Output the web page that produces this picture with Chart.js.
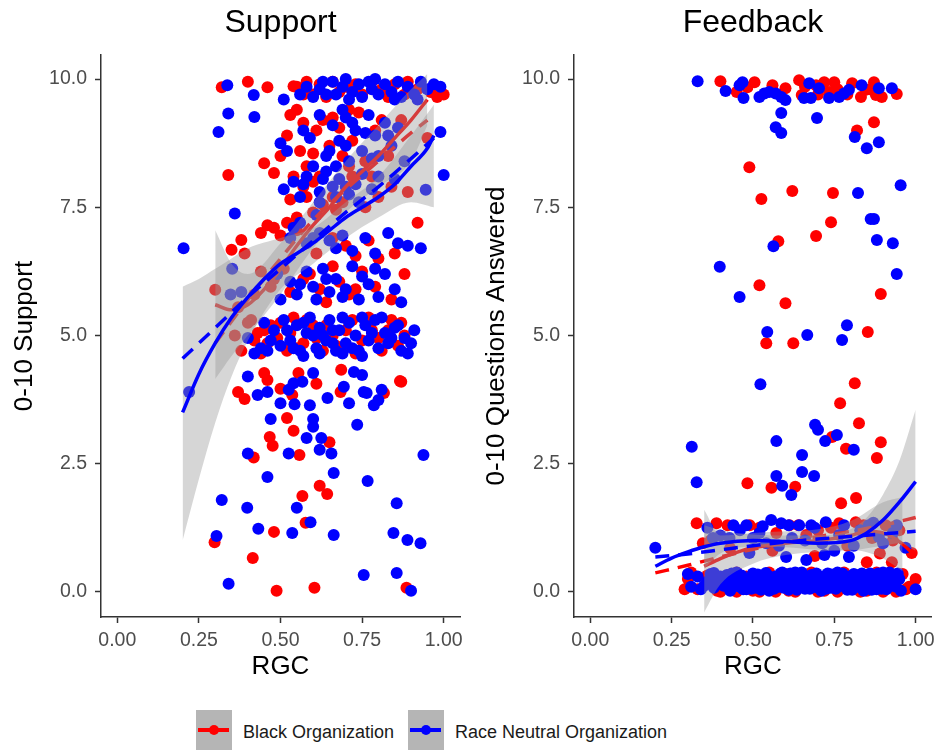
<!DOCTYPE html>
<html>
<head>
<meta charset="utf-8">
<script src="https://cdn.jsdelivr.net/npm/chart.js@4.4.1/dist/chart.umd.min.js"></script>
<style>
  body { margin: 0; background: #fff; font-family: "Liberation Sans", Arial, sans-serif; }
  #wrap { position: relative; width: 941px; height: 750px; overflow: hidden; }
  #supportCanvas { position: absolute; left: 0; top: 0; }
  #feedbackCanvas { position: absolute; left: 470px; top: 0; }
  .key { position: absolute; top: 710px; width: 36px; height: 40px; background: #b5b5b5; }
  .key .ln { position: absolute; left: 2px; right: 3px; top: 18px; height: 4px; }
  .key .dot { position: absolute; left: 13px; top: 15px; width: 10px; height: 10px; border-radius: 50%; }
  .lbl { position: absolute; top: 721px; font-size: 18px; color: #1a1a1a; line-height: 22px; white-space: nowrap; }
</style>
</head>
<body>
<div id="wrap">
  <canvas id="supportCanvas" width="470" height="690"></canvas>
  <canvas id="feedbackCanvas" width="471" height="690"></canvas>

  <div class="key" style="left:196px"><div class="ln" style="background:#ff0000"></div><div class="dot" style="background:#ff0000"></div></div>
  <div class="lbl" style="left:243px">Black Organization</div>
  <div class="key" style="left:408px"><div class="ln" style="background:#0000ff"></div><div class="dot" style="background:#0000ff"></div></div>
  <div class="lbl" style="left:455px">Race Neutral Organization</div>
</div>

<script>
const rgcTicks = [0, 0.25, 0.5, 0.75, 1];
const scoreTicks = [0, 2.5, 5, 7.5, 10];

// Support panel: [RGC, 0-10 support]
const supportBlack = [
  [0.32,9.84],[0.40,9.95],[0.46,9.84],[0.54,9.86],[0.55,9.85],[0.57,9.7],[0.58,9.95],[0.60,9.7],[0.62,9.9],[0.64,9.65],
  [0.66,9.95],[0.68,9.75],[0.70,9.85],[0.73,9.9],[0.75,9.7],[0.78,9.95],[0.81,9.8],[0.83,9.65],[0.85,9.9],[0.88,9.7],
  [0.89,9.95],[0.92,9.8],[0.96,9.75],[0.98,9.65],[1.0,9.7],
  [0.34,8.13],[0.45,8.36],[0.48,8.17],[0.52,8.9],[0.55,9.4],[0.56,8.6],[0.57,9.15],[0.58,8.3],[0.61,9.0],[0.65,8.7],
  [0.66,9.25],[0.69,8.5],[0.72,8.8],[0.74,9.35],[0.76,8.4],[0.79,9.0],[0.83,8.5],[0.87,9.2],[0.95,8.85],[0.53,9.3],[0.60,8.55],
  [0.63,9.2],[0.68,9.05],[0.71,9.4],[0.81,9.2],[0.50,8.5],[0.54,8.1],
  [0.53,7.65],[0.57,7.9],[0.60,8.0],[0.63,7.55],[0.66,7.7],[0.69,7.6],[0.72,8.1],[0.76,7.5],[0.80,7.7],[0.84,7.9],
  [0.89,7.8],[0.55,7.3],[0.60,7.4],[0.58,7.7],[0.62,8.1],[0.67,7.45],[0.71,8.3],[0.78,8.1],
  [0.35,6.67],[0.38,6.86],[0.39,6.6],[0.44,7.0],[0.46,7.15],[0.48,7.1],[0.50,6.95],[0.52,7.2],[0.55,7.05],[0.61,6.6],
  [0.66,6.9],[0.70,6.75],[0.73,6.55],[0.77,6.85],[0.80,6.5],[0.85,6.6],[0.92,7.2],
  [0.30,5.89],[0.37,5.55],[0.42,5.8],[0.44,6.25],[0.47,5.95],[0.51,6.3],[0.57,6.1],[0.62,5.9],[0.64,5.65],[0.66,6.35],
  [0.71,5.8],[0.75,6.25],[0.79,5.95],[0.84,5.7],[0.88,6.2],[0.48,6.1],[0.53,5.85],[0.59,6.2],[0.68,6.05],[0.73,5.9],
  [0.36,5.0],[0.38,4.7],[0.40,5.25],[0.42,4.9],[0.44,4.65],[0.45,5.1],[0.47,5.2],[0.49,4.95],[0.52,4.7],[0.54,5.35],
  [0.57,4.85],[0.60,5.2],[0.63,4.7],[0.66,5.0],[0.69,4.75],[0.72,5.3],[0.75,4.9],[0.78,5.1],[0.81,4.7],[0.84,5.3],
  [0.86,4.8],[0.88,5.0],[0.41,5.3],[0.43,5.05],[0.46,4.85],[0.50,5.25],[0.53,5.05],[0.55,4.75],[0.58,5.3],[0.61,4.95],
  [0.64,5.2],[0.67,4.8],[0.70,5.1],[0.73,4.65],[0.77,5.35],[0.80,4.95],[0.83,5.1],[0.87,5.25],
  [0.37,3.9],[0.39,3.76],[0.45,4.27],[0.46,4.13],[0.467,3.02],[0.476,2.85],[0.50,3.96],[0.52,3.39],[0.536,3.84],[0.54,3.14],
  [0.555,4.27],[0.61,4.06],[0.65,2.92],[0.558,2.67],[0.418,2.62],[0.686,4.33],[0.684,3.9],[0.817,3.88],[0.866,4.11],[0.62,2.07],
  [0.643,1.91],[0.567,1.87],[0.577,1.35],[0.48,1.17],[0.298,0.97],[0.415,0.66],[0.488,0.02],[0.604,0.08],[0.886,0.08],[0.87,4.1]
];
const supportNeutral = [
  [0.337,9.88],[0.418,9.69],[0.51,9.6],[0.56,9.7],[0.58,9.85],[0.60,9.65],[0.62,9.8],[0.63,9.95],[0.64,9.7],[0.66,9.95],
  [0.67,9.7],[0.69,9.85],[0.70,10.0],[0.71,9.6],[0.72,9.75],[0.74,9.9],[0.75,9.65],[0.77,9.95],[0.78,9.8],[0.79,10.0],
  [0.80,9.7],[0.82,9.9],[0.84,9.75],[0.85,9.6],[0.86,9.95],[0.87,9.65],[0.89,9.85],[0.91,9.7],[0.92,9.6],[0.93,9.95],
  [0.95,9.8],[0.97,9.9],[0.99,9.85],
  [0.34,9.33],[0.42,9.26],[0.31,8.97],[0.50,8.75],[0.52,8.6],[0.57,9.0],[0.59,8.85],[0.60,8.3],[0.62,9.3],[0.64,8.5],
  [0.66,9.1],[0.67,8.3],[0.68,8.8],[0.69,9.4],[0.70,9.25],[0.71,8.4],[0.73,9.0],[0.75,8.6],[0.77,9.3],[0.79,8.9],
  [0.80,8.5],[0.82,9.15],[0.84,8.7],[0.86,9.05],[0.88,8.4],[0.99,8.97],
  [0.65,8.6],[0.70,8.7],[0.72,9.15],[0.76,8.95],[0.78,8.45],[0.83,8.9],
  [0.36,7.38],[0.51,7.85],[0.54,8.0],[0.56,7.7],[0.58,8.1],[0.62,7.8],[0.62,7.6],[0.64,8.2],[0.66,7.9],[0.68,8.05],
  [0.71,7.75],[0.73,7.95],[0.75,8.15],[0.78,7.85],[0.80,8.1],[0.85,8.05],[0.945,7.84],[1.0,8.13],
  [0.63,8.05],[0.67,7.7],[0.70,7.9],[0.74,7.6],[0.57,7.95],[0.61,7.35],
  [0.203,6.7],[0.53,6.9],[0.54,7.1],[0.56,7.2],[0.58,6.8],[0.60,6.9],[0.62,7.0],[0.67,6.7],[0.69,6.95],[0.72,6.65],
  [0.76,6.9],[0.79,6.6],[0.83,7.0],[0.86,6.8],[0.89,6.75],[0.93,6.7],[0.65,6.85],
  [0.352,6.3],[0.347,5.8],[0.38,5.85],[0.49,6.2],[0.50,5.7],[0.53,6.05],[0.55,5.8],[0.58,6.25],[0.60,5.95],[0.61,5.7],
  [0.63,6.3],[0.65,5.85],[0.67,6.1],[0.70,5.9],[0.72,6.35],[0.74,5.7],[0.77,6.0],[0.80,5.75],[0.82,6.2],[0.85,5.9],[0.87,5.65],
  [0.56,6.0],[0.64,6.1],[0.69,5.75],[0.75,6.15],[0.79,6.3],
  [0.40,4.95],[0.42,4.65],[0.44,4.75],[0.45,5.25],[0.46,4.7],[0.48,5.1],[0.50,4.8],[0.51,5.3],[0.53,4.9],[0.55,5.2],
  [0.56,4.7],[0.57,4.6],[0.58,5.05],[0.59,5.35],[0.60,5.0],[0.61,4.75],[0.62,5.15],[0.63,5.0],[0.64,4.9],[0.65,5.3],
  [0.66,5.1],[0.67,4.7],[0.68,5.1],[0.69,5.35],[0.70,4.85],[0.71,5.25],[0.73,5.0],[0.74,4.7],[0.75,4.6],[0.76,5.2],
  [0.77,4.9],[0.79,5.3],[0.80,4.75],[0.81,5.35],[0.82,5.05],[0.83,4.85],[0.85,5.15],[0.86,5.2],[0.87,4.7],[0.88,4.95],
  [0.89,4.65],[0.91,5.1],[0.47,4.9],[0.52,5.1],[0.54,4.75],[0.57,5.25],[0.62,4.65],[0.66,4.85],[0.69,4.65],[0.72,4.75],
  [0.75,5.35],[0.78,5.05],[0.84,4.95],[0.90,4.85],
  [0.40,4.2],[0.43,3.84],[0.46,3.9],[0.47,3.37],[0.50,3.68],[0.525,3.94],[0.54,4.07],[0.567,4.1],[0.543,3.66],[0.59,3.64],
  [0.60,4.27],[0.60,3.37],[0.60,3.22],[0.58,3.0],[0.625,3.0],[0.62,2.77],[0.656,2.7],[0.525,2.7],[0.40,2.7],[0.644,3.78],
  [0.694,4.0],[0.71,3.68],[0.725,4.29],[0.75,4.23],[0.735,3.26],[0.764,3.88],[0.786,3.64],[0.80,3.74],[0.755,3.9],[0.81,3.94],
  [0.938,2.67],[0.663,2.32],[0.46,2.24],[0.767,2.16],[0.32,1.79],[0.398,1.64],[0.55,1.64],[0.856,1.73],[0.592,1.36],[0.432,1.23],
  [0.536,1.15],[0.663,1.11],[0.304,1.09],[0.846,1.15],[0.889,1.01],[0.929,0.95],[0.755,0.33],[0.856,0.37],[0.341,0.16],[0.9,0.02],
  [0.22,3.9]
];

// Feedback panel: [RGC, 0-10 questions answered]
const feedbackBlack = [
  [0.40,9.96],[0.45,9.75],[0.483,9.84],[0.505,9.94],[0.56,9.88],[0.60,9.82],[0.642,9.98],[0.65,9.69],[0.694,9.88],[0.719,9.94],
  [0.734,9.75],[0.75,9.94],[0.805,9.92],[0.832,9.65],[0.847,9.79],[0.872,9.94],[0.878,9.69],[0.896,9.65],[0.942,9.71],[0.76,9.8],
  [0.70,9.7],[0.82,9.0],[0.872,9.16],[0.66,9.85],[0.79,9.7],[0.86,9.8],
  [0.489,8.28],[0.526,7.66],[0.621,7.82],[0.746,7.78],[0.74,7.21],[0.694,6.94],[0.578,6.84],[0.52,5.98],[0.6,5.63],[0.893,5.81],
  [0.541,4.85],[0.624,4.85],[0.853,5.07],[0.813,4.07],[0.768,3.68],[0.826,3.29],[0.743,3.02],[0.893,2.92],[0.786,2.79],[0.881,2.61],
  [0.483,2.12],[0.557,2.03],[0.63,2.05],[0.817,1.83],[0.771,1.73],
  [0.327,1.34],[0.388,1.34],[0.422,1.3],[0.612,1.3],[0.765,1.34],[0.816,1.36],[0.908,1.3],[0.346,0.95],[0.85,0.58],[0.927,0.58],
  [0.988,0.76],[0.664,1.11],[0.866,1.05],[0.572,1.15],[0.52,1.25],[0.70,1.2],[0.95,1.2],
  [0.37,1.0],[0.43,0.85],[0.49,1.3],[0.56,0.8],[0.64,1.3],[0.69,0.7],[0.74,1.25],[0.79,0.9],[0.84,1.3],[0.89,0.75],[0.93,1.0],
  [0.29,0.05],[0.30,0.25],[0.31,0.38],[0.33,0.05],[0.36,0.32],[0.39,0.02],[0.42,0.15],[0.45,0.0],[0.45,0.38],[0.48,0.3],
  [0.50,0.02],[0.53,0.2],[0.55,0.38],[0.57,0.0],[0.60,0.35],[0.63,0.0],[0.66,0.25],[0.68,0.38],[0.70,0.0],[0.73,0.3],
  [0.76,0.0],[0.78,0.38],[0.80,0.2],[0.83,0.0],[0.86,0.33],[0.88,0.38],[0.90,0.0],[0.93,0.2],[0.96,0.35],[0.97,0.05],
  [0.98,0.1],[1.0,0.25],[0.40,0.0],[0.52,0.0],[0.61,0.02],[0.72,0.02],[0.85,0.02],[0.94,0.0]
];
const feedbackNeutral = [
  [0.33,9.96],[0.416,9.77],[0.459,9.88],[0.468,9.94],[0.471,9.63],[0.52,9.65],[0.535,9.72],[0.55,9.75],[0.57,9.72],[0.587,9.65],
  [0.60,9.59],[0.587,9.34],[0.57,9.06],[0.587,8.95],[0.657,9.63],[0.673,9.92],[0.678,9.63],[0.703,9.82],[0.734,9.63],[0.697,9.24],
  [0.765,9.65],[0.78,9.72],[0.795,9.79],[0.834,9.88],[0.887,9.82],[0.927,9.82],[0.813,8.87],[0.887,8.77],[0.85,8.65],
  [0.823,7.78],[0.954,7.93],[0.862,7.27],[0.872,7.27],[0.881,6.86],[0.93,6.8],[0.563,6.74],[0.398,6.34],[0.942,6.2],[0.459,5.75],
  [0.544,5.07],[0.667,5.01],[0.789,5.2],[0.774,4.91],[0.523,4.05],[0.691,3.26],[0.70,3.16],[0.758,3.06],[0.722,2.94],[0.572,2.94],
  [0.312,2.83],[0.81,2.77],[0.651,2.67],[0.651,2.34],[0.688,2.26],[0.572,2.26],[0.327,2.14],[0.59,2.07],[0.618,1.89],
  [0.48,1.3],[0.556,1.4],[0.587,1.34],[0.642,1.3],[0.679,1.3],[0.724,1.36],[0.856,1.3],[0.942,1.3],[0.377,1.05],[0.428,1.05],
  [0.52,1.15],[0.489,0.76],[0.541,0.95],[0.602,0.68],[0.664,0.62],[0.713,0.95],[0.795,0.68],[0.969,0.86],[0.2,0.86],[0.765,1.11],
  [0.887,1.07],[0.46,1.2],[0.62,1.05],[0.75,0.8],[0.83,1.2],
  [0.36,1.25],[0.40,1.1],[0.44,1.3],[0.50,1.05],[0.53,1.28],[0.58,0.9],[0.61,1.3],[0.66,1.0],[0.69,1.25],[0.72,0.72],
  [0.78,1.3],[0.81,0.9],[0.87,1.35],[0.90,0.95],[0.93,1.15],
  [0.30,0.35],[0.31,0.1],[0.33,0.3],[0.34,0.05],[0.35,0.12],[0.36,0.2],[0.37,0.35],[0.38,0.08],[0.38,0.37],[0.39,0.25],
  [0.40,0.3],[0.41,0.12],[0.42,0.33],[0.43,0.02],[0.44,0.22],[0.44,0.1],[0.45,0.38],[0.46,0.1],[0.47,0.28],[0.47,0.05],
  [0.48,0.05],[0.49,0.18],[0.50,0.36],[0.50,0.15],[0.51,0.08],[0.52,0.26],[0.53,0.14],[0.53,0.32],[0.54,0.37],[0.55,0.02],
  [0.55,0.3],[0.56,0.22],[0.57,0.3],[0.58,0.1],[0.58,0.28],[0.59,0.38],[0.60,0.18],[0.60,0.32],[0.61,0.04],[0.62,0.3],
  [0.63,0.12],[0.63,0.38],[0.64,0.25],[0.65,0.38],[0.65,0.12],[0.66,0.06],[0.67,0.2],[0.68,0.33],[0.68,0.15],[0.69,0.1],
  [0.70,0.28],[0.70,0.08],[0.71,0.02],[0.72,0.16],[0.73,0.36],[0.74,0.08],[0.74,0.34],[0.75,0.24],[0.76,0.38],[0.76,0.15],
  [0.77,0.12],[0.78,0.3],[0.79,0.04],[0.80,0.2],[0.80,0.08],[0.81,0.35],[0.82,0.1],[0.82,0.32],[0.83,0.26],[0.84,0.02],
  [0.85,0.18],[0.86,0.36],[0.86,0.14],[0.87,0.08],[0.88,0.28],[0.88,0.05],[0.89,0.14],[0.90,0.38],[0.91,0.05],[0.92,0.22],
  [0.92,0.38],[0.93,0.32],[0.94,0.1],[0.95,0.25],[0.955,0.02],[1.0,0.05],
  [0.425,0.2],[0.435,0.36],[0.455,0.14],[0.465,0.32],[0.485,0.24],[0.495,0.06],[0.505,0.22],[0.515,0.34],[0.525,0.04],[0.535,0.2],
  [0.545,0.12],[0.565,0.06],[0.575,0.16],[0.585,0.36],[0.595,0.08],[0.605,0.26],[0.615,0.36],[0.625,0.18],[0.635,0.04],[0.645,0.34],
  [0.655,0.2],[0.665,0.3],[0.675,0.06],[0.685,0.24],[0.695,0.36],[0.705,0.16],[0.715,0.3],[0.725,0.06],[0.735,0.2],[0.745,0.26],
  [0.755,0.06],[0.765,0.28],[0.775,0.36],[0.785,0.18],[0.795,0.3],[0.805,0.04],[0.815,0.22],[0.825,0.16],[0.835,0.36],[0.845,0.1],
  [0.855,0.28],[0.865,0.04],[0.875,0.24],[0.885,0.36],[0.895,0.06],[0.905,0.2],[0.915,0.3],[0.925,0.12],[0.935,0.2],[0.945,0.36]
];

// smoothed fits, solid and dashed, per organization
const supportBlackFit = [[0.3,5.6],[0.35,5.5],[0.4,5.6],[0.45,5.9],[0.5,6.3],[0.55,6.75],[0.6,7.15],[0.65,7.5],[0.7,7.9],[0.75,8.2],[0.8,8.5],[0.85,8.85],[0.9,9.2],[0.95,9.6]];
const supportBlackFit2 = [[0.3,4.85],[0.4,5.7],[0.5,6.5],[0.6,7.25],[0.7,7.85],[0.8,8.4],[0.9,8.95],[0.95,9.2]];
const supportNeutralFit = [[0.2,3.5],[0.25,4.25],[0.3,4.85],[0.35,5.35],[0.4,5.75],[0.45,6.1],[0.5,6.4],[0.55,6.6],[0.6,6.8],[0.65,7.05],[0.7,7.3],[0.75,7.5],[0.8,7.7],[0.85,7.95],[0.9,8.3],[0.95,8.65],[0.97,8.9]];
const supportNeutralFit2 = [[0.2,4.55],[0.3,5.15],[0.4,5.75],[0.5,6.3],[0.6,6.85],[0.7,7.4],[0.8,7.9],[0.9,8.45],[0.97,8.85]];
const feedbackBlackFit = [[0.35,0.5],[0.4,0.65],[0.45,0.77],[0.5,0.86],[0.6,0.95],[0.7,1.0],[0.8,1.1],[0.85,1.18],[0.9,1.15],[0.95,0.98],[1.0,0.7]];
const feedbackBlackFit2 = [[0.2,0.37],[0.3,0.52],[0.4,0.68],[0.5,0.83],[0.6,0.96],[0.7,1.08],[0.8,1.18],[0.9,1.3],[1.0,1.45]];
const feedbackNeutralFit = [[0.2,0.5],[0.25,0.66],[0.3,0.78],[0.35,0.88],[0.4,0.95],[0.5,1.0],[0.6,0.98],[0.7,0.95],[0.8,1.0],[0.85,1.15],[0.9,1.4],[0.95,1.75],[1.0,2.15]];
const feedbackNeutralFit2 = [[0.2,0.68],[0.3,0.74],[0.4,0.82],[0.5,0.9],[0.6,0.97],[0.7,1.03],[0.8,1.08],[0.9,1.13],[1.0,1.18]];

// confidence bands: RGC, lower, upper
const supportBlackBandX = [0.3, 0.35, 0.4, 0.5, 0.6, 0.7, 0.8, 0.9, 0.95];
const supportBlackBandLo = [4.15, 4.6, 5.0, 5.8, 6.7, 7.4, 7.9, 8.4, 9.1];
const supportBlackBandHi = [7.05, 6.4, 6.2, 6.8, 7.6, 8.4, 9.1, 9.8, 10.1];
const supportNeutralBandX = [0.2, 0.25, 0.3, 0.35, 0.4, 0.5, 0.6, 0.7, 0.8, 0.9, 0.97];
const supportNeutralBandLo = [1.0, 2.2, 3.3, 4.2, 4.9, 5.9, 6.4, 6.9, 7.3, 7.6, 7.5];
const supportNeutralBandHi = [5.95, 6.1, 6.3, 6.5, 6.7, 6.9, 7.1, 7.6, 8.1, 8.9, 9.5];
const feedbackBlackBandX = [0.35, 0.4, 0.5, 0.6, 0.7, 0.8, 0.9, 0.96];
const feedbackBlackBandLo = [-0.4, 0.15, 0.55, 0.72, 0.78, 0.82, 0.65, 0.4];
const feedbackBlackBandHi = [1.6, 1.1, 1.15, 1.18, 1.22, 1.38, 1.75, 1.85];
const feedbackNeutralBandX = [0.35, 0.4, 0.5, 0.6, 0.7, 0.8, 0.85, 0.9, 0.95, 1.0];
const feedbackNeutralBandLo = [0.45, 0.75, 0.88, 0.87, 0.82, 0.8, 0.85, 0.9, 0.95, 0.8];
const feedbackNeutralBandHi = [1.3, 1.2, 1.12, 1.1, 1.1, 1.22, 1.45, 1.9, 2.55, 3.55];

const RED = '#ff0000';
const BLUE = '#0000ff';
const BAND = 'rgba(153,153,153,0.4)';
const FONT = '"Liberation Sans", Arial, sans-serif';

const xy = pts => pts.map(([x, y]) => ({x, y}));
const zipBand = (xs, ys) => xs.map((x, i) => ({x, y: ys[i]}));

function points(data, color, order) {
  return {
    data: xy(data), showLine: false, order,
    pointRadius: 6, pointHoverRadius: 6, pointBorderWidth: 0,
    pointBackgroundColor: color, borderColor: color
  };
}

function fit(data, color, dashed, order) {
  return {
    data: xy(data), order, pointRadius: 0, fill: false,
    borderColor: color, borderWidth: 3.5, borderDash: dashed ? [14, 9] : [],
    cubicInterpolationMode: 'monotone'
  };
}

// lower edge followed by upper edge filled back to it
function band(xs, lo, hi) {
  return [
    { data: zipBand(xs, lo), order: 1, pointRadius: 0, fill: false, borderColor: 'rgba(0,0,0,0)', cubicInterpolationMode: 'monotone' },
    { data: zipBand(xs, hi), order: 1, pointRadius: 0, fill: '-1', backgroundColor: BAND, borderColor: 'rgba(0,0,0,0)', cubicInterpolationMode: 'monotone' }
  ];
}

function makePanel(id, opts) {
  const datasets = [
    fit(opts.neutralFit, BLUE, false, 0),
    fit(opts.neutralFit2, BLUE, true, 0),
    ...band(opts.blackBand[0], opts.blackBand[1], opts.blackBand[2]),
    ...band(opts.neutralBand[0], opts.neutralBand[1], opts.neutralBand[2]),
    fit(opts.blackFit, RED, false, 2),
    fit(opts.blackFit2, RED, true, 2),
    points(opts.neutral, BLUE, 3),
    points(opts.black, RED, 4)
  ];

  new Chart(document.getElementById(id), {
    type: 'line',
    data: { datasets },
    options: {
      responsive: false,
      animation: false,
      events: [],
      layout: { padding: { left: 0, top: 0, bottom: 0, right: opts.padRight } },
      plugins: {
        legend: { display: false },
        tooltip: { enabled: false },
        title: {
          display: true, text: opts.title, fullSize: false, color: '#000',
          font: { family: FONT, size: 32, weight: 'normal' },
          padding: { top: 4, bottom: 12.6 }
        }
      },
      scales: {
        x: {
          type: 'linear', min: -0.05, max: 1.05,
          afterBuildTicks: s => { s.ticks = rgcTicks.map(v => ({ value: v })); },
          afterFit: s => { s.height = 73; },
          ticks: { color: '#4d4d4d', font: { family: FONT, size: 19.5 }, padding: 6, autoSkip: false, maxRotation: 0, callback: v => v.toFixed(2) },
          grid: { drawOnChartArea: false, tickLength: 6, tickColor: '#333', tickWidth: 1.5 },
          border: { color: '#333', width: 1.5 },
          title: { display: true, text: 'RGC', color: '#000', font: { family: FONT, size: 26 }, padding: { top: 0, bottom: 8 } }
        },
        y: {
          type: 'linear', min: -0.49, max: 10.47,
          afterBuildTicks: s => { s.ticks = scoreTicks.map(v => ({ value: v })); },
          afterFit: s => { s.width = opts.axisWidth; },
          ticks: { color: '#4d4d4d', font: { family: FONT, size: 19.5 }, padding: 8, autoSkip: false, callback: v => v.toFixed(1) },
          grid: { drawOnChartArea: false, tickLength: 6, tickColor: '#333', tickWidth: 1.5 },
          border: { color: '#333', width: 1.5 },
          title: { display: true, text: opts.yTitle, color: '#000', font: { family: FONT, size: 26 }, padding: { top: opts.yTitlePad, bottom: 0 } }
        }
      }
    }
  });
}

makePanel('supportCanvas', {
  title: 'Support', yTitle: '0-10 Support', axisWidth: 101, padRight: 10, yTitlePad: 9.5,
  black: supportBlack, neutral: supportNeutral,
  blackFit: supportBlackFit, blackFit2: supportBlackFit2,
  neutralFit: supportNeutralFit, neutralFit2: supportNeutralFit2,
  blackBand: [supportBlackBandX, supportBlackBandLo, supportBlackBandHi],
  neutralBand: [supportNeutralBandX, supportNeutralBandLo, supportNeutralBandHi]
});

makePanel('feedbackCanvas', {
  title: 'Feedback', yTitle: '0-10 Questions Answered', axisWidth: 104, padRight: 8, yTitlePad: 11.5,
  black: feedbackBlack, neutral: feedbackNeutral,
  blackFit: feedbackBlackFit, blackFit2: feedbackBlackFit2,
  neutralFit: feedbackNeutralFit, neutralFit2: feedbackNeutralFit2,
  blackBand: [feedbackBlackBandX, feedbackBlackBandLo, feedbackBlackBandHi],
  neutralBand: [feedbackNeutralBandX, feedbackNeutralBandLo, feedbackNeutralBandHi]
});
</script>
</body>
</html>
